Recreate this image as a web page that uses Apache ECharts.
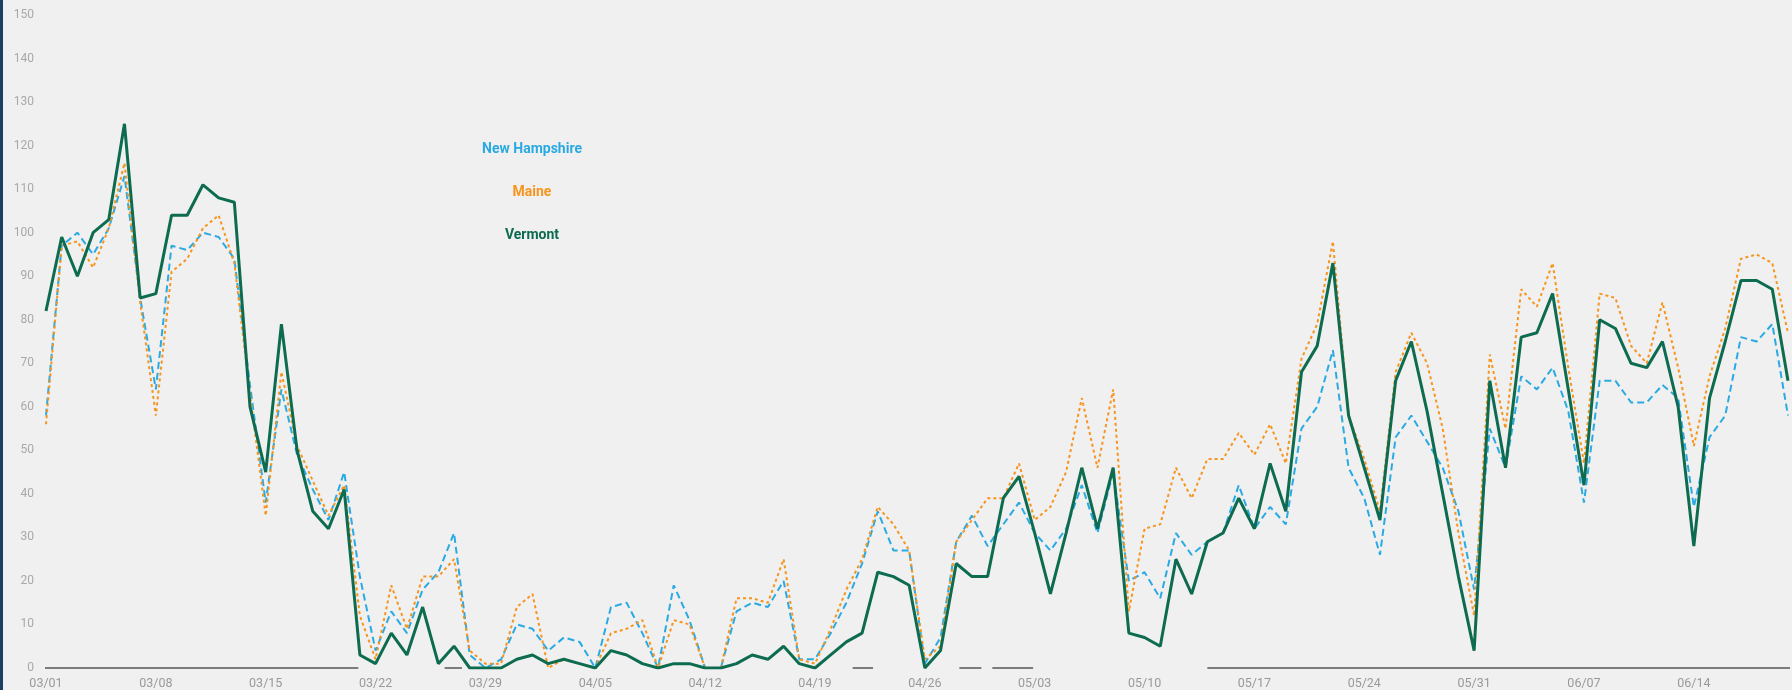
<!DOCTYPE html>
<html>
<head>
<meta charset="utf-8">
<script src="https://cdn.jsdelivr.net/npm/echarts@6/dist/echarts.min.js"></script>
<style>
  html, body { margin: 0; padding: 0; background: #f0f0f0; }
  #chart { width: 1792px; height: 690px; }
</style>
</head>
<body>
<div id="chart"></div>
<script>
const categories = [
  '03/01','03/02','03/03','03/04','03/05','03/06','03/07','03/08','03/09','03/10','03/11','03/12','03/13','03/14','03/15','03/16',
  '03/17','03/18','03/19','03/20','03/21','03/22','03/23','03/24','03/25','03/26','03/27','03/28','03/29','03/30','03/31',
  '04/01','04/02','04/03','04/04','04/05','04/06','04/07','04/08','04/09','04/10','04/11','04/12','04/13','04/14','04/15',
  '04/16','04/17','04/18','04/19','04/20','04/21','04/22','04/23','04/24','04/25','04/26','04/27','04/28','04/29','04/30',
  '05/01','05/02','05/03','05/04','05/05','05/06','05/07','05/08','05/09','05/10','05/11','05/12','05/13','05/14','05/15','05/16',
  '05/17','05/18','05/19','05/20','05/21','05/22','05/23','05/24','05/25','05/26','05/27','05/28','05/29','05/30','05/31',
  '06/01','06/02','06/03','06/04','06/05','06/06','06/07','06/08','06/09','06/10','06/11','06/12','06/13','06/14','06/15',
  '06/16','06/17','06/18','06/19','06/20'
];

const newHampshire = [
  58,97,100,95,101,113,85,64,97,96,100,99,94,65,38,64,49,41,34,45,
  21,4,13,8,18,22,31,3,0,2,
  10,9,4,7,6,0,14,15,8,0,
  19,11,0,0,13,15,14,20,2,2,
  8,15,24,36,27,27,1,7,29,35,
  28,33,38,31,27,32,42,31,45,20,
  22,16,31,26,29,31,42,32,37,33,
  55,60,73,46,39,26,53,58,52,46,
  36,18,55,46,67,64,69,59,38,66,
  66,61,61,65,62,37,53,58,76,75,
  79,58
];

const maine = [
  56,97,98,92,101,116,84,58,91,94,101,104,93,63,35,68,51,43,35,42,
  12,2,19,9,21,21,25,4,1,1,
  14,17,0,2,1,0,8,9,11,0,
  11,10,0,0,16,16,15,25,2,1,
  9,18,25,37,33,27,2,5,29,34,
  39,39,47,34,37,45,62,46,64,13,
  32,33,46,39,48,48,54,49,56,47,
  71,79,98,58,48,36,68,77,70,55,
  31,12,72,55,87,83,93,69,47,86,
  85,74,70,84,69,51,67,78,94,95,
  93,77
];

const vermont = [
  82,99,90,100,103,125,85,86,104,104,111,108,107,60,45,79,50,36,32,41,
  3,1,8,3,14,1,5,0,0,0,
  2,3,1,2,1,0,4,3,1,0,
  1,1,0,0,1,3,2,5,1,0,
  3,6,8,22,21,19,0,4,24,21,
  21,39,44,31,17,31,46,32,46,8,
  7,5,25,17,29,31,39,32,47,36,
  68,74,93,58,46,34,66,75,59,40,
  21,4,66,46,76,77,86,64,42,80,
  78,70,69,75,60,28,62,75,89,89,
  87,66
];

// zero-line segments, in day-index units (start, end)
const zeroLineSegments = [[-0.6,19.9],[25.4,26.5],[51.4,52.7],[58.2,59.6],[60.3,62.9],[74.0,111.3]];

const seriesNames = ['New Hampshire','Maine','Vermont'];
const seriesColors = ['#2aaae2','#f7941d','#0d6b4f'];
const yTicks = { min: 0, max: 150, interval: 10 };

const baseData = [];
zeroLineSegments.forEach(s => { baseData.push([s[0],0],[s[1],0],[s[1],'-']); });

const chart = echarts.init(document.getElementById('chart'));
chart.setOption({
  backgroundColor: '#f0f0f0',
  animation: false,
  grid: { left: 46, right: 4, top: 15, bottom: 22 },
  xAxis: [{
    type: 'category',
    data: categories,
    boundaryGap: false,
    axisLine: { show: false },
    axisTick: { show: false },
    axisLabel: { interval: 6, color: '#999999', fontFamily: 'Roboto', fontSize: 12.5, margin: 9 }
  }, {
    type: 'value', min: 0, max: categories.length - 1, show: false
  }],
  yAxis: {
    type: 'value',
    min: yTicks.min, max: yTicks.max, interval: yTicks.interval,
    axisLine: { show: false },
    axisTick: { show: false },
    splitLine: { show: false },
    axisLabel: { color: '#a8a8a8', fontFamily: 'Roboto', fontSize: 12, margin: 12 }
  },
  graphic: [
    { type: 'rect', left: 0, top: 0, shape: { width: 3, height: 690 }, style: { fill: '#1e3d63' } },
    { type: 'text', x: 532, y: 149, style: { text: seriesNames[0], fill: seriesColors[0], font: 'bold 14px Roboto', textAlign: 'center', textVerticalAlign: 'middle' } },
    { type: 'text', x: 532, y: 192, style: { text: seriesNames[1], fill: seriesColors[1], font: 'bold 14px Roboto', textAlign: 'center', textVerticalAlign: 'middle' } },
    { type: 'text', x: 532, y: 235, style: { text: seriesNames[2], fill: seriesColors[2], font: 'bold 14px Roboto', textAlign: 'center', textVerticalAlign: 'middle' } }
  ],
  series: [
    {
      name: 'zero', type: 'line', xAxisIndex: 1, data: baseData, symbol: 'none', silent: true, clip: false,
      connectNulls: false, lineStyle: { color: '#555', width: 1.5 }, z: 1
    },
    {
      name: seriesNames[0], type: 'line', data: newHampshire, symbol: 'none',
      lineStyle: { color: seriesColors[0], width: 2, type: [7, 4] }, z: 2
    },
    {
      name: seriesNames[1], type: 'line', data: maine, symbol: 'none',
      lineStyle: { color: seriesColors[1], width: 2, type: [3, 3] }, z: 3
    },
    {
      name: seriesNames[2], type: 'line', data: vermont, symbol: 'none',
      lineStyle: { color: seriesColors[2], width: 3 }, z: 4
    }
  ]
});
</script>
</body>
</html>
